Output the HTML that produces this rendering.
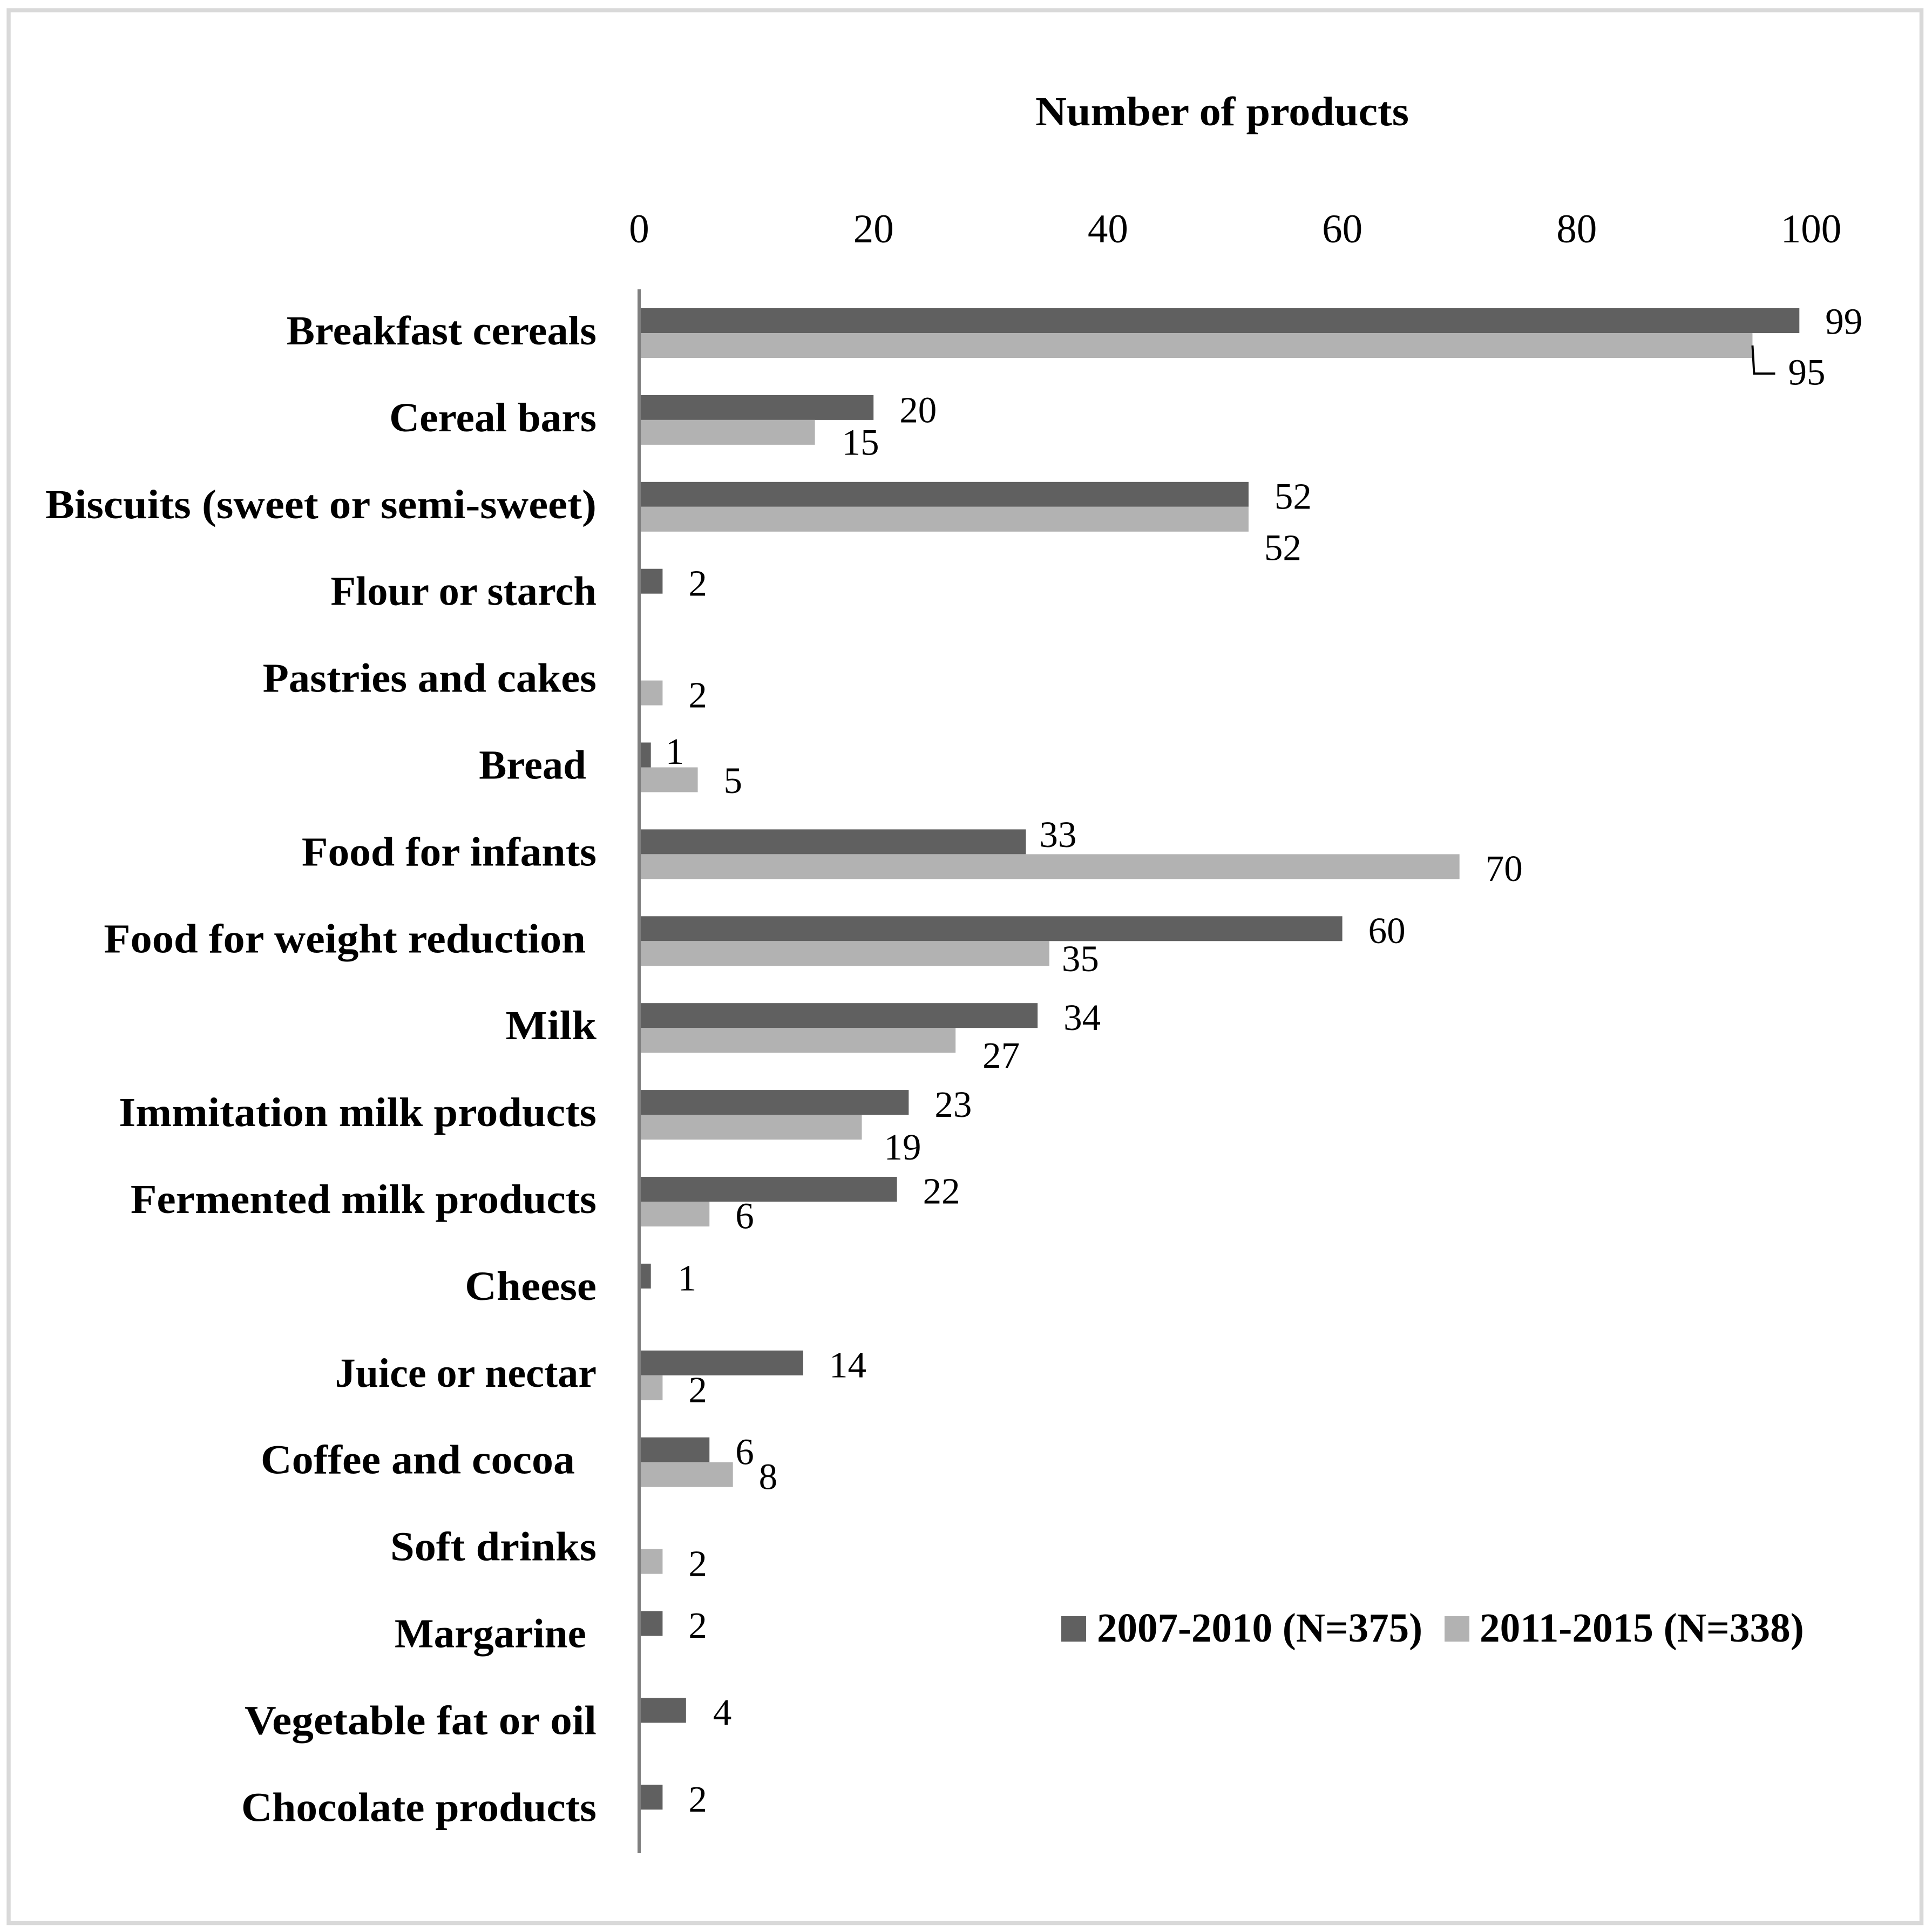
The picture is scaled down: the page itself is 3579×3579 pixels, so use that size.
<!DOCTYPE html>
<html lang="en">
<head>
<meta charset="utf-8">
<title>Number of products by food category</title>
<style>
html,body{margin:0;padding:0;background:#fff;width:3579px;height:3579px;overflow:hidden}
svg{display:block}
text{fill:#000;font-family:"Liberation Serif",serif;white-space:pre}
.cat,.head,.leg{font-weight:700;font-size:76px}
.tick{font-size:75px}
.val{font-size:69px}
</style>
</head>
<body>
<svg id="chart" xmlns="http://www.w3.org/2000/svg" width="3579" height="3579" viewBox="0 0 3579 3579">
  <rect x="0" y="0" width="3579" height="3579" fill="#fff"/>
  <rect x="16" y="19" width="3543.5" height="3543.5" fill="none" stroke="#d9d9d9" stroke-width="7.5"/>
  <text class="head" transform="translate(2264 232) scale(1.055 1)" text-anchor="middle">Number of products</text>
  <g id="ticks"></g>
  <g id="bars"></g>
  <g id="values"></g>
  <g id="cats"></g>
  <rect x="1181" y="536" width="6" height="2897" fill="#7f7f7f"/>
  <g>
    <rect x="1966" y="2994" width="46" height="47" fill="#606060"/>
    <text class="leg" transform="translate(2032 3041) scale(0.987 1)">2007-2010 (N=375)</text>
    <rect x="2676" y="2994" width="46" height="47" fill="#b2b2b2"/>
    <text class="leg" transform="translate(2741 3041) scale(0.99 1)">2011-2015 (N=338)</text>
  </g>
</svg>
<script>
const categories = ["Breakfast cereals","Cereal bars","Biscuits (sweet or semi-sweet)","Flour or starch","Pastries and cakes","Bread ","Food for infants","Food for weight reduction ","Milk","Immitation milk products","Fermented milk products","Cheese","Juice or nectar","Coffee and cocoa  ","Soft drinks","Margarine ","Vegetable fat or oil","Chocolate products"];
const series2007 = [99,20,52,2,null,1,33,60,34,23,22,1,14,6,null,2,4,2];
const series2011 = [95,15,52,null,2,5,70,35,27,19,6,null,2,8,2,null,null,null];
const tickValues = [0,20,40,60,80,100];

const NS = "http://www.w3.org/2000/svg";
const X0 = 1184, UNIT = 21.71, Y0 = 617, STEP = 160.9, BAR_H = 46;
const xScale = v => X0 + v * UNIT;
const yScale = i => Y0 + i * STEP;

// Layout only: horizontal glyph stretch per category label, to mimic the wider original typeface
const categoryStretch = [1.032,1.02,1.065,1.006,1.039,1.008,1.046,1.058,1.079,1.055,1.045,1.07,1.001,1.053,1.058,1.013,1.069,1.045];

// Layout only: hand-placed label nudges from the original figure, keyed "series:categoryIndex": [dx, dy] from bar end/centre
const LABEL_DEFAULT = [48, 6];
const labelNudges = {
  "a:0":[48,4],"b:0":[66,52],"a:1":[48,7],"b:1":[50,21],"b:2":[29,55],"a:5":[27,-4],"b:5":[48,4],
  "a:6":[25,-11],"b:7":[23,12],"b:8":[50,30],"b:9":[41,39],"a:11":[50,6],"a:16":[50,6]
};

function make(tag, attrs, parent, text) {
  const el = document.createElementNS(NS, tag);
  for (const k in attrs) el.setAttribute(k, attrs[k]);
  if (text !== undefined) el.textContent = text;
  parent.appendChild(el);
  return el;
}

const barsG = document.getElementById("bars");
const valuesG = document.getElementById("values");
const catsG = document.getElementById("cats");
const ticksG = document.getElementById("ticks");

tickValues.forEach(t => {
  const el = make("text", {class:"tick", x:xScale(t), y:449, "text-anchor":"middle"}, ticksG, String(t));
  
  
});

categories.forEach((c, i) => {
  const el = make("text", {class:"cat", "text-anchor":"end", transform:`translate(1105 ${yScale(i)+21}) scale(${categoryStretch[i]} 1)`}, catsG, c);
  el.setAttribute('xml:space', 'preserve');
  
  
});

function drawBar(v, i, key, color) {
  if (v === null) return;
  const top = key === "a" ? yScale(i) - BAR_H : yScale(i);
  const r = make("rect", {x:X0, y:top, width:xScale(v)-X0, height:BAR_H, fill:color}, barsG);
  
  
  const n = labelNudges[key + ":" + i] || LABEL_DEFAULT;
  const t = make("text", {class:"val", x:xScale(v)+n[0], y:top+BAR_H/2+n[1]+20.7}, valuesG, String(v));
  
  
}
series2007.forEach((v, i) => drawBar(v, i, "a", "#606060"));
series2011.forEach((v, i) => drawBar(v, i, "b", "#b2b2b2"));

// Leader line for the first light bar, anchored on its end
const lx = xScale(series2011[0]);
const ly = yScale(0) + BAR_H / 2;
const leader = make("path", {d:`M${lx} ${ly}L${lx+3} ${ly+52}H${lx+42}`, fill:"none", stroke:"#000", "stroke-width":4}, valuesG);


</script>
</body>
</html>
